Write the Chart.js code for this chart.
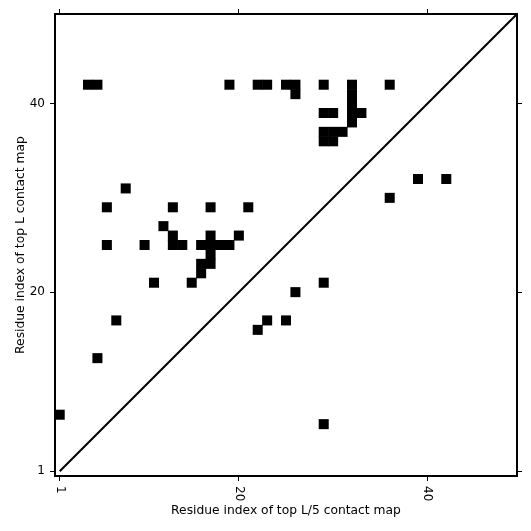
<!DOCTYPE html>
<html><head><meta charset="utf-8">
<script src="https://cdn.jsdelivr.net/npm/chart.js@4/dist/chart.umd.min.js"></script>
<style>html,body{margin:0;padding:0;background:#fff}#wrap{width:531px;height:531px}</style>
</head><body><div id="wrap"><canvas id="c" width="531" height="531"></canvas></div>
<script>
// ---- data ----
const tickValues = [1, 20, 40];
const axisMin = 0.5;
const axisMax = 49.5;
// contacts above the diagonal (top L contact map)
const topLx = [4,5,19,22,23,25,26,29,32,36, 26,32, 32, 29,30,32,33, 32, 29,30,31, 29,30, 8, 6,13,17,21, 12, 13,17,20, 6,10,13,14,16,17,18,19, 17, 16,17, 16, 11,15, 7, 5, 1];
const topLy = [42,42,42,42,42,42,42,42,42,42, 41,41, 40, 39,39,39,39, 38, 37,37,37, 36,36, 31, 29,29,29,29, 27, 26,26,26, 25,25,25,25,25,25,25,25, 24, 23,23, 22, 21,21, 17, 13, 7];
// contacts below the diagonal (top L/5 contact map)
const topL5x = [29,22,23,25,26,29,36,39,42];
const topL5y = [6,16,17,17,20,21,30,32,32];
// diagonal
const diagX = [1, 49.5];
const diagY = [1, 49.5];
const xTitle = 'Residue index of top L/5 contact map';
const yTitle = 'Residue index of top L contact map';

const FONT = 'DejaVu Sans';
const OVERLAP = 0.6;
const toPts = (xs, ys) => xs.map((x, i) => ({x: x, y: ys[i]}));
const cellRadius = ctx => {
  const s = ctx.chart.scales.x;
  if (!s) return 7;
  const unit = Math.abs(s.getPixelForValue(1) - s.getPixelForValue(0));
  return (unit + OVERLAP) / Math.SQRT2;
};
const setTicks = s => { s.ticks = tickValues.map(v => ({value: v})); };

const baseAxis = (pos) => ({
  type: 'linear', position: pos, min: axisMin, max: axisMax,
  afterBuildTicks: setTicks,
  grid: {drawOnChartArea: false, drawTicks: true, tickLength: 5, color: '#000', lineWidth: 1},
  border: {display: true, color: '#000', width: 2},
  ticks: {display: false}
});

const xAxis = baseAxis('bottom');
xAxis.afterFit = s => { s.height = 55; };
xAxis.title = {display: true, text: xTitle, color: '#000', font: {family: FONT, size: 12.3}, padding: {top: 0, bottom: 13}};

const yAxis = baseAxis('left');
yAxis.afterFit = s => { s.width = 55; };
yAxis.ticks = {display: true, color: '#000', padding: 5, font: {family: FONT, size: 12}, autoSkip: false};
yAxis.title = {display: true, text: yTitle, color: '#000', font: {family: FONT, size: 12.3}, padding: {top: 13, bottom: 0}};

const x2Axis = baseAxis('top');
x2Axis.afterFit = s => { s.height = 14; };
const y2Axis = baseAxis('right');
y2Axis.afterFit = s => { s.width = 14; };

const xLabelPlugin = {
  id: 'xLabels',
  afterDraw(chart) {
    const s = chart.scales.x;
    const ctx = chart.ctx;
    ctx.save();
    ctx.fillStyle = '#000';
    ctx.font = '12px "' + FONT + '"';
    ctx.textAlign = 'left';
    ctx.textBaseline = 'middle';
    s.ticks.forEach(t => {
      const px = s.getPixelForValue(t.value);
      ctx.save();
      ctx.translate(px, s.top + 10);
      ctx.rotate(Math.PI / 2);
      ctx.fillText(String(t.value), 0, 0);
      ctx.restore();
    });
    ctx.restore();
  }
};

new Chart(document.getElementById('c'), {
  type: 'scatter',
  data: {
    datasets: [
      {label: 'top L', data: toPts(topLx, topLy), pointStyle: 'rect', pointRadius: cellRadius,
       backgroundColor: '#000', borderColor: '#000', pointBorderWidth: 0, xAxisID: 'x', yAxisID: 'y'},
      {label: 'top L/5', data: toPts(topL5x, topL5y), pointStyle: 'rect', pointRadius: cellRadius,
       backgroundColor: '#000', borderColor: '#000', pointBorderWidth: 0, xAxisID: 'x', yAxisID: 'y'},
      {label: 'diagonal', data: toPts(diagX, diagY), showLine: true, pointRadius: 0,
       borderColor: '#000', borderWidth: 2, xAxisID: 'x', yAxisID: 'y'}
    ]
  },
  options: {
    responsive: false,
    devicePixelRatio: 1,
    animation: false,
    events: [],
    layout: {padding: 0},
    plugins: {legend: {display: false}, tooltip: {enabled: false}},
    scales: {x: xAxis, y: yAxis, x2: x2Axis, y2: y2Axis}
  },
  plugins: [xLabelPlugin]
});
</script>
</body></html>
